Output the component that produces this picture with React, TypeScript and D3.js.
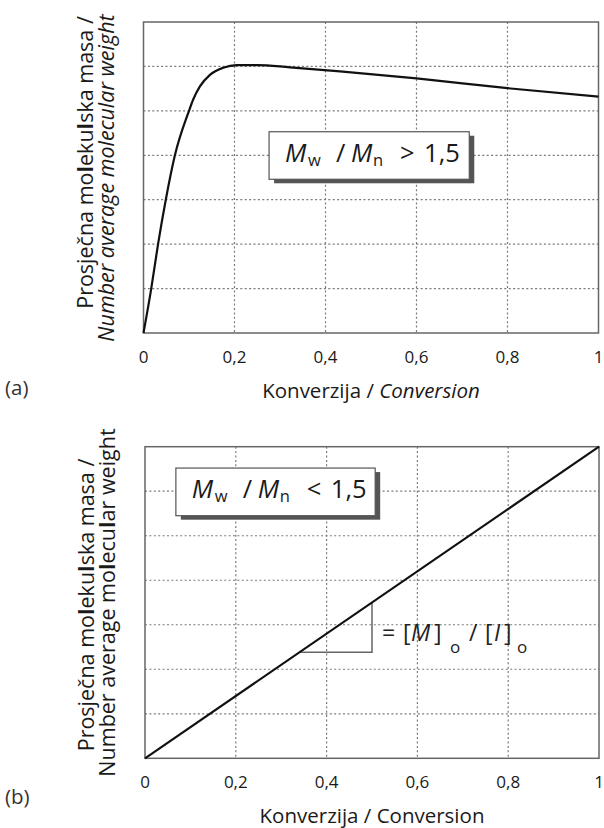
import React from "react";
import * as d3 from "d3";

// ---- data ----
const convA = [0, 0.017, 0.032, 0.049, 0.069, 0.1, 0.109, 0.124, 0.146, 0.175, 0.205, 0.25, 0.322, 0.432, 0.6, 0.8, 1.0];
const mwA = [0, 1, 2, 3, 4, 5, 5.25, 5.55, 5.81, 5.97, 6.03, 6.03, 5.98, 5.89, 5.73, 5.51, 5.32];
const convB = [0, 1];
const mwB = [0, 7];
const xTicks = [0, 0.2, 0.4, 0.6, 0.8, 1];
const xTickLabels = ["0", "0,2", "0,4", "0,6", "0,8", "1"];
const yGrid = [1, 2, 3, 4, 5, 6];
const slopeTri = [0.34, 0.5];

const FONT = "'Open Sans', 'Noto Sans', sans-serif";
const GRID = "#7a7a7a";
const FRAME = "#666";
const INK = "#1a1a1a";

type PanelProps = {
  x0: number; x1: number; yTop: number; yBot: number;
  xs: number[]; ys: number[]; curved: boolean;
  tag: string; tagY: number;
  ylab1X: number; ylab1C: number; ylab2X: number; ylab2C: number; ylab2Italic: boolean;
  titleItalic: boolean;
  box: [number, number, number, number]; op: string;
  tri?: boolean;
};

function BoldL({ text }: { text: string }) {
  const parts: React.ReactNode[] = [];
  const words = text.split(" ");
  words.forEach((w, wi) => {
    const sep = wi < words.length - 1 ? " " : "";
    if (w.startsWith("mol")) {
      w.split("").forEach((c, ci) => {
        parts.push(
          <tspan key={wi + "-" + ci} fontWeight={c === "l" ? 700 : 400}>{c}</tspan>
        );
      });
      parts.push(<tspan key={wi + "s"}>{sep}</tspan>);
    } else {
      parts.push(<tspan key={wi}>{w + sep}</tspan>);
    }
  });
  return <>{parts}</>;
}

function Panel(p: PanelProps) {
  const x = d3.scaleLinear().domain([0, 1]).range([p.x0, p.x1]);
  const y = d3.scaleLinear().domain([0, 7]).range([p.yBot, p.yTop]);
  const line = d3.line<number>()
    .x((_, i) => x(p.xs[i]))
    .y((d) => y(d))
    .curve(p.curved ? d3.curveMonotoneX : d3.curveLinear);
  const path = line(p.ys) || "";
  const [bx0, bx1, by0, by1] = p.box;
  const bl = x(bx0), br = x(bx1), bt = y(by0), bb = y(by1);
  const fsBig = 25.5, fsSub = 16.5;
  const labFs = 21.5;
  return (
    <g>
      {xTicks.slice(1, -1).map((t) => (
        <line key={"vx" + t} x1={x(t)} x2={x(t)} y1={p.yTop} y2={p.yBot}
          stroke={GRID} strokeWidth={1.2} strokeDasharray="2,2.4" />
      ))}
      {yGrid.map((t) => (
        <line key={"hy" + t} x1={p.x0} x2={p.x1} y1={y(t)} y2={y(t)}
          stroke={GRID} strokeWidth={1.2} strokeDasharray="2,2.4" />
      ))}
      <rect x={p.x0} y={p.yTop} width={p.x1 - p.x0} height={p.yBot - p.yTop}
        fill="none" stroke={FRAME} strokeWidth={1.5} />
      <rect x={bl + 5} y={bt + 4} width={br - bl} height={bb - bt} fill="#555" />
      <rect x={bl} y={bt} width={br - bl} height={bb - bt} fill="#fff" stroke="#555" strokeWidth={1.2} />
      <g fontFamily={FONT} fill={INK}>
        <text x={bl + 16} y={bt + 30} fontSize={fsBig} fontStyle="italic">M</text>
        <text x={bl + 39} y={bt + 34} fontSize={fsSub}>w</text>
        <text x={bl + 67} y={bt + 30} fontSize={fsBig}>/</text>
        <text x={bl + 82} y={bt + 30} fontSize={fsBig} fontStyle="italic">M</text>
        <text x={bl + 104} y={bt + 34} fontSize={fsSub}>n</text>
        <text x={bl + 131} y={bt + 30} fontSize={fsBig}>{p.op}</text>
        <text x={bl + 155} y={bt + 30} fontSize={fsBig}>1,5</text>
      </g>
      {p.tri && (() => {
        const [a, b] = slopeTri;
        const ya = a * 7, yb = b * 7;
        const tx = x(b) + 10, ty = y((ya + yb) / 2) + 14;
        return (
          <g>
            <path d={`M${x(a)},${y(ya)}H${x(b)}V${y(yb)}`} fill="none" stroke={FRAME} strokeWidth={1.5} />
            <g fontFamily={FONT} fill="#222" fontSize={23}>
              <text x={tx} y={ty}>=</text>
              <text x={tx + 21} y={ty}>[</text>
              <text x={tx + 29} y={ty} fontStyle="italic">M</text>
              <text x={tx + 52} y={ty}>]</text>
              <text x={tx + 68} y={ty + 12} fontSize={17}>o</text>
              <text x={tx + 87} y={ty}>/</text>
              <text x={tx + 103} y={ty}>[</text>
              <text x={tx + 112} y={ty} fontStyle="italic">I</text>
              <text x={tx + 122} y={ty}>]</text>
              <text x={tx + 135} y={ty + 12} fontSize={17}>o</text>
            </g>
          </g>
        );
      })()}
      <path d={path} fill="none" stroke="#111" strokeWidth={2.2} strokeLinejoin="round" />
      <g fontFamily={FONT} fontSize={17} fill={INK} textAnchor="middle">
        {xTicks.map((t, i) => (
          <text key={"tl" + t} x={x(t)} y={p.yBot + 30}>{xTickLabels[i]}</text>
        ))}
      </g>
      <text x={(p.x0 + p.x1) / 2} y={p.yBot + 65} fontFamily={FONT} fontSize={20.5} fill={INK} textAnchor="middle">
        Konverzija / <tspan fontStyle={p.titleItalic ? "italic" : "normal"}>Conversion</tspan>
      </text>
      <text transform={`translate(${p.ylab1X},${p.ylab1C}) rotate(-90)`} fontFamily={FONT} fontSize={labFs} fill={INK} textAnchor="middle">
        <BoldL text="Prosječna molekulska masa /" />
      </text>
      <text transform={`translate(${p.ylab2X},${p.ylab2C}) rotate(-90)`} fontFamily={FONT} fontSize={labFs} fill={INK} textAnchor="middle"
        fontStyle={p.ylab2Italic ? "italic" : "normal"}>
        {p.ylab2Italic ? "Number average molecular weight" : <BoldL text="Number average molecular weight" />}
      </text>
      <text x={5} y={p.tagY} fontFamily={FONT} fontSize={20.5} fill="#333">{p.tag}</text>
    </g>
  );
}

export default function App() {
  return (
    <svg width={604} height={828} style={{ position: "absolute", left: 0, top: 0, background: "#fff" }}>
      <rect width={604} height={828} fill="#fff" />
      <Panel x0={143.5} x1={598.5} yTop={22} yBot={333} xs={convA} ys={mwA} curved
        tag="(a)" tagY={395}
        ylab1X={93} ylab1C={162.5} ylab2X={114} ylab2C={178} ylab2Italic
        titleItalic box={[0.276, 0.716, 4.53, 3.46]} op=">" />
      <Panel x0={145} x1={599} yTop={446.7} yBot={758.3} xs={convB} ys={mwB} curved={false}
        tag="(b)" tagY={804}
        ylab1X={94} ylab1C={605} ylab2X={115} ylab2C={602.5} ylab2Italic={false}
        titleItalic={false} box={[0.068, 0.507, 6.52, 5.45]} op="<" tri />
    </svg>
  );
}
